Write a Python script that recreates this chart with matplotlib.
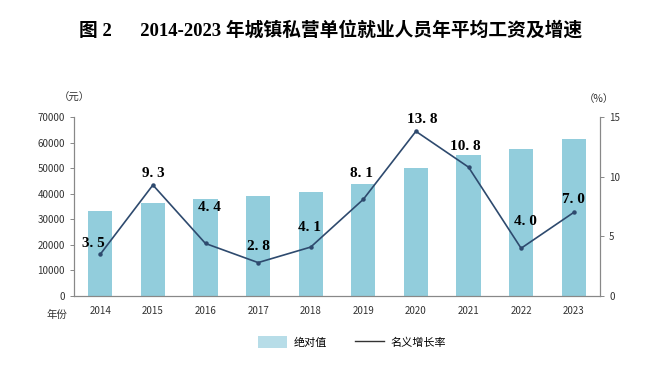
import matplotlib.pyplot as plt
from matplotlib.patches import Patch
from matplotlib.lines import Line2D

plt.rcParams['font.family'] = ['Noto Sans CJK SC', 'DejaVu Sans']

years = ['2014', '2015', '2016', '2017', '2018', '2019', '2020', '2021', '2022', '2023']
wages = [33400, 36400, 38000, 39000, 40600, 43800, 50000, 55200, 57600, 61500]
growth = [3.5, 9.3, 4.4, 2.8, 4.1, 8.1, 13.8, 10.8, 4.0, 7.0]
# label offsets in pixels (dx, dy) relative to each point
offsets = [(-7, 11), (0, 12), (4, 36), (0, 16), (-1, 20), (-2, 26), (6, 12), (-3, 21), (4, 27), (0, 13)]

fig = plt.figure(figsize=(6.61, 3.68), dpi=100)
ax = fig.add_axes([74/661, 1-296/368, 526/661, 179/368])
ax2 = ax.twinx()

x = range(len(years))
ax.bar(x, wages, width=0.46, color='#92cddc', zorder=2)
ax.set_xlim(-0.5, len(years) - 0.5)
ax.set_ylim(0, 70000)
ax.set_yticks(range(0, 70001, 10000))
ax.set_xticks(list(x))
ax.set_xticklabels(years)

ax2.plot(x, growth, color='#2e4a6e', lw=1.2, marker='o', ms=2.2, zorder=3)
ax2.set_ylim(0, 15)
ax2.set_yticks([0, 5, 10, 15])

for i, v in enumerate(growth):
    dx, dy = offsets[i]
    ax2.annotate(f'{v:.1f}'.replace('.', '. '), (i, v), xytext=(dx * 0.72, dy * 0.72),
                 textcoords='offset points', ha='center', va='center', fontsize=11,
                 fontweight='bold', family=['Liberation Serif', 'DejaVu Serif'])

for a in (ax, ax2):
    a.spines['top'].set_visible(False)
    for s in ('left', 'right', 'bottom'):
        a.spines[s].set_color('#888888')
        a.spines[s].set_linewidth(0.8)
    a.tick_params(labelsize=7, colors='#333333', length=3, width=0.7)
    a.tick_params(axis='both', color='#888888')
ax.tick_params(axis='x', length=0, pad=7)

fig.text(74/661, 1-98/368, '（元）', ha='center', va='center', fontsize=7.5, color='#333333')
fig.text(599/661, 1-99/368, '（%）', ha='center', va='center', fontsize=7.5, color='#333333')
fig.text(57/661, 1-315/368, '年份', ha='center', va='center', fontsize=7.5, color='#333333')

fig.text(331/661, 1-30/368, '图 2      2014-2023 年城镇私营单位就业人员年平均工资及增速',
         ha='center', va='center', fontsize=13.5, fontweight='bold',
         family=['Liberation Serif', 'Noto Sans CJK SC'])

handles = [Patch(facecolor='#b7dde8', edgecolor='none'),
           Line2D([0], [0], color='#333333', lw=1)]
fig.legend(handles, ['绝对值', '名义增长率'], loc='center', bbox_to_anchor=(352/661, 1-342/368),
           ncol=2, frameon=False, fontsize=8, handlelength=2.6, handleheight=1.2,
           columnspacing=2.5, handletextpad=0.6)

fig.savefig('out.png', dpi=100)
